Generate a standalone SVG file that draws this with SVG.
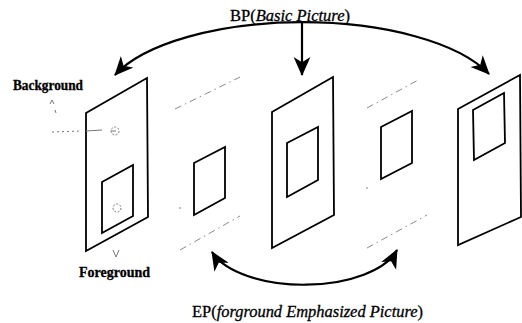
<svg xmlns="http://www.w3.org/2000/svg" width="522" height="323" viewBox="0 0 522 323">
<style>
.frame{fill:none;stroke:#000;stroke-width:1.8;stroke-linejoin:miter}
.guide{fill:none;stroke:#8a8a8a;stroke-width:1;stroke-dasharray:7 4 1.5 4}
.faint{fill:none;stroke:#777;stroke-width:1}
.conn{fill:none;stroke:#000;stroke-width:2.2}
.lbl{font-family:"Liberation Serif","Times New Roman",serif;fill:#000;stroke:#000;stroke-width:0.3}
</style>
<defs>
<marker id="ah" markerUnits="userSpaceOnUse" markerWidth="20" markerHeight="18" refX="17" refY="8" orient="auto-start-reverse" viewBox="0 0 19 16">
<path d="M0,0 L18,8 L0,16 L5,8 z" fill="#000"/>
</marker>
</defs>
<rect width="522" height="323" fill="#fff"/>

<g id="frame-bg">
<polygon class="frame" points="86,113 147,78 148,217 86,251"/>
<polygon class="frame" points="102,182 133,165 133,216 102,233"/>
</g>
<g id="frame-ep1">
<polygon class="frame" points="194,163 225,147 225,198 194,215"/>
<line class="guide" x1="175" y1="109" x2="240" y2="77"/>
<line class="guide" x1="180" y1="250" x2="240" y2="216"/>
<circle cx="180" cy="208" r="0.8" fill="#777"/>
</g>
<g id="frame-bp">
<polygon class="frame" points="272,112 333,77 334,215 272,248"/>
<polygon class="frame" points="287,143 318,127 318,180 287,197"/>
</g>
<g id="frame-ep2">
<polygon class="frame" points="381,127 412,111 412,163 381,179"/>
<line class="guide" x1="367" y1="108" x2="420" y2="79"/>
<line class="guide" x1="367" y1="248" x2="427" y2="215"/>
<circle cx="367" cy="188" r="0.8" fill="#777"/>
</g>
<g id="frame-fg">
<polygon class="frame" points="458,109 520,75 521,217 458,245"/>
<polygon class="frame" points="473,110 504,93 505,143 474,160"/>
</g>

<g id="annotations">
<path class="faint" d="M50,104 L52,100 L54,104 M55,110 L56,113"/>
<line class="faint" x1="52" y1="132" x2="82" y2="131" stroke-dasharray="2 3"/>
<line class="faint" x1="86" y1="131" x2="102" y2="130"/>
<circle class="faint" cx="115" cy="131" r="4" stroke-dasharray="2 1.5"/>
<line class="faint" x1="111" y1="131" x2="116" y2="131"/>
<circle class="faint" cx="117" cy="208" r="4" stroke-dasharray="2 1.5"/>
<path class="faint" d="M113,250 L116,257 L119,250"/>
</g>

<g id="labels">
<text class="lbl" x="13" y="90" font-size="14" font-weight="bold" textLength="70" lengthAdjust="spacingAndGlyphs">Background</text>
<text class="lbl" x="79" y="277" font-size="14" font-weight="bold" textLength="71" lengthAdjust="spacingAndGlyphs">Foreground</text>
<text class="lbl" x="230" y="21" font-size="16" textLength="120" lengthAdjust="spacingAndGlyphs">BP(<tspan font-style="italic">Basic Picture</tspan>)</text>
<text class="lbl" x="192" y="317" font-size="16" textLength="231" lengthAdjust="spacingAndGlyphs">EP(<tspan font-style="italic">forground Emphasized Picture</tspan>)</text>
</g>

<g id="connectors">
<path class="conn" d="M115,75 A200,81 0 0 1 489,74" marker-start="url(#ah)" marker-end="url(#ah)"/>
<path class="conn" d="M302,23 L302,75" marker-end="url(#ah)"/>
<path class="conn" d="M212,252 A96,46 0 0 0 397,250" marker-start="url(#ah)" marker-end="url(#ah)"/>
</g>
</svg>
